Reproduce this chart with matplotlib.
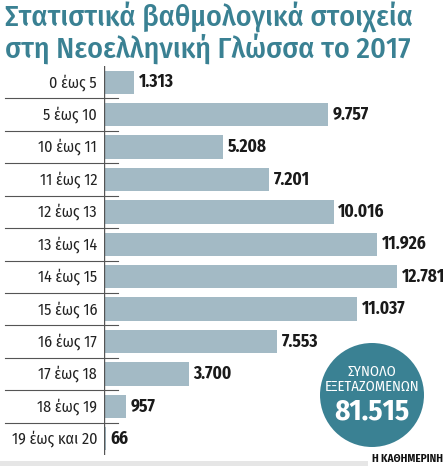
import matplotlib.pyplot as plt
from matplotlib.patches import Circle, Rectangle
import matplotlib.transforms as mtransforms

plt.rcParams['font.family'] = ['Fira Sans Condensed', 'DejaVu Sans']

categories = ["0 έως 5", "5 έως 10", "10 έως 11", "11 έως 12", "12 έως 13",
              "13 έως 14", "14 έως 15", "15 έως 16", "16 έως 17", "17 έως 18",
              "18 έως 19", "19 έως και 20"]
counts = [1313, 9757, 5208, 7201, 10016, 11926, 12781, 11037, 7553, 3700, 957, 66]
total = 81515

W, H = 444, 466
fig = plt.figure(figsize=(W / 100, H / 100), dpi=100)


def fx(px):
    return px / W


def fy(py):
    return 1 - py / H


bar_color = "#a3bac5"
teal = "#3a8193"

# main axes: left edge is the vertical axis line
ax = fig.add_axes([fx(104), fy(455), fx(444) - fx(104), fy(66) - fy(455)])
ax.set_xlim(0, 340 / 0.02293)
ax.set_ylim(len(categories) - 0.5, -0.5)
ax.axis("off")

ypos = list(range(len(categories)))
ax.barh(ypos, counts, height=0.72, color=bar_color, edgecolor="none")
ax.axvline(0, color="#555555", lw=1)


def fmt(v):
    return f"{v:,}".replace(",", ".")


for y, v in zip(ypos, counts):
    ax.text(v + 200, y, fmt(v), va="center", ha="left", fontsize=12.5,
            fontweight="bold", color="#1a1a1a")

trans = mtransforms.blended_transform_factory(fig.transFigure, ax.transData)
for y, lab in zip(ypos, categories):
    ax.text(fx(97), y, lab, transform=trans, ha="right", va="center",
            fontsize=11.5, color="#222222")
    if y < len(categories) - 1:
        ax.plot([fx(5), fx(118)], [y + 0.5, y + 0.5], transform=trans,
                color="#555555", lw=0.8, clip_on=False)

# title
fig.text(fx(5), fy(2), "Στατιστικά βαθμολογικά στοιχεία\nστη Νεοελληνική Γλώσσα το 2017",
         ha="left", va="top", fontsize=21.5, fontweight="medium", color=teal,
         linespacing=0.98)

# total circle
fig.patches.append(Circle((372, H - 395), 52, transform=None,
                          facecolor=teal, edgecolor="none", zorder=5))
fig.text(fx(372), fy(372), "ΣΥΝΟΛΟ", ha="center", va="center", color="white",
         fontsize=10.5, zorder=6)
fig.text(fx(372), fy(387), "ΕΞΕΤΑΖΟΜΕΝΩΝ", ha="center", va="center", color="white",
         fontsize=10.5, zorder=6)
fig.text(fx(372), fy(412), fmt(total), ha="center", va="center", color="white",
         fontsize=21, fontweight="bold", zorder=6)

# bottom strip and source
fig.patches.append(Rectangle((0, 0), 368, 5, transform=None,
                             facecolor="#e6e6e6", edgecolor="none"))
fig.text(fx(443), fy(459), "Η ΚΑΘΗΜΕΡΙΝΗ", ha="right", va="center",
         fontsize=8, fontweight="bold", color="#111111")

fig.savefig("out.png", dpi=100)
